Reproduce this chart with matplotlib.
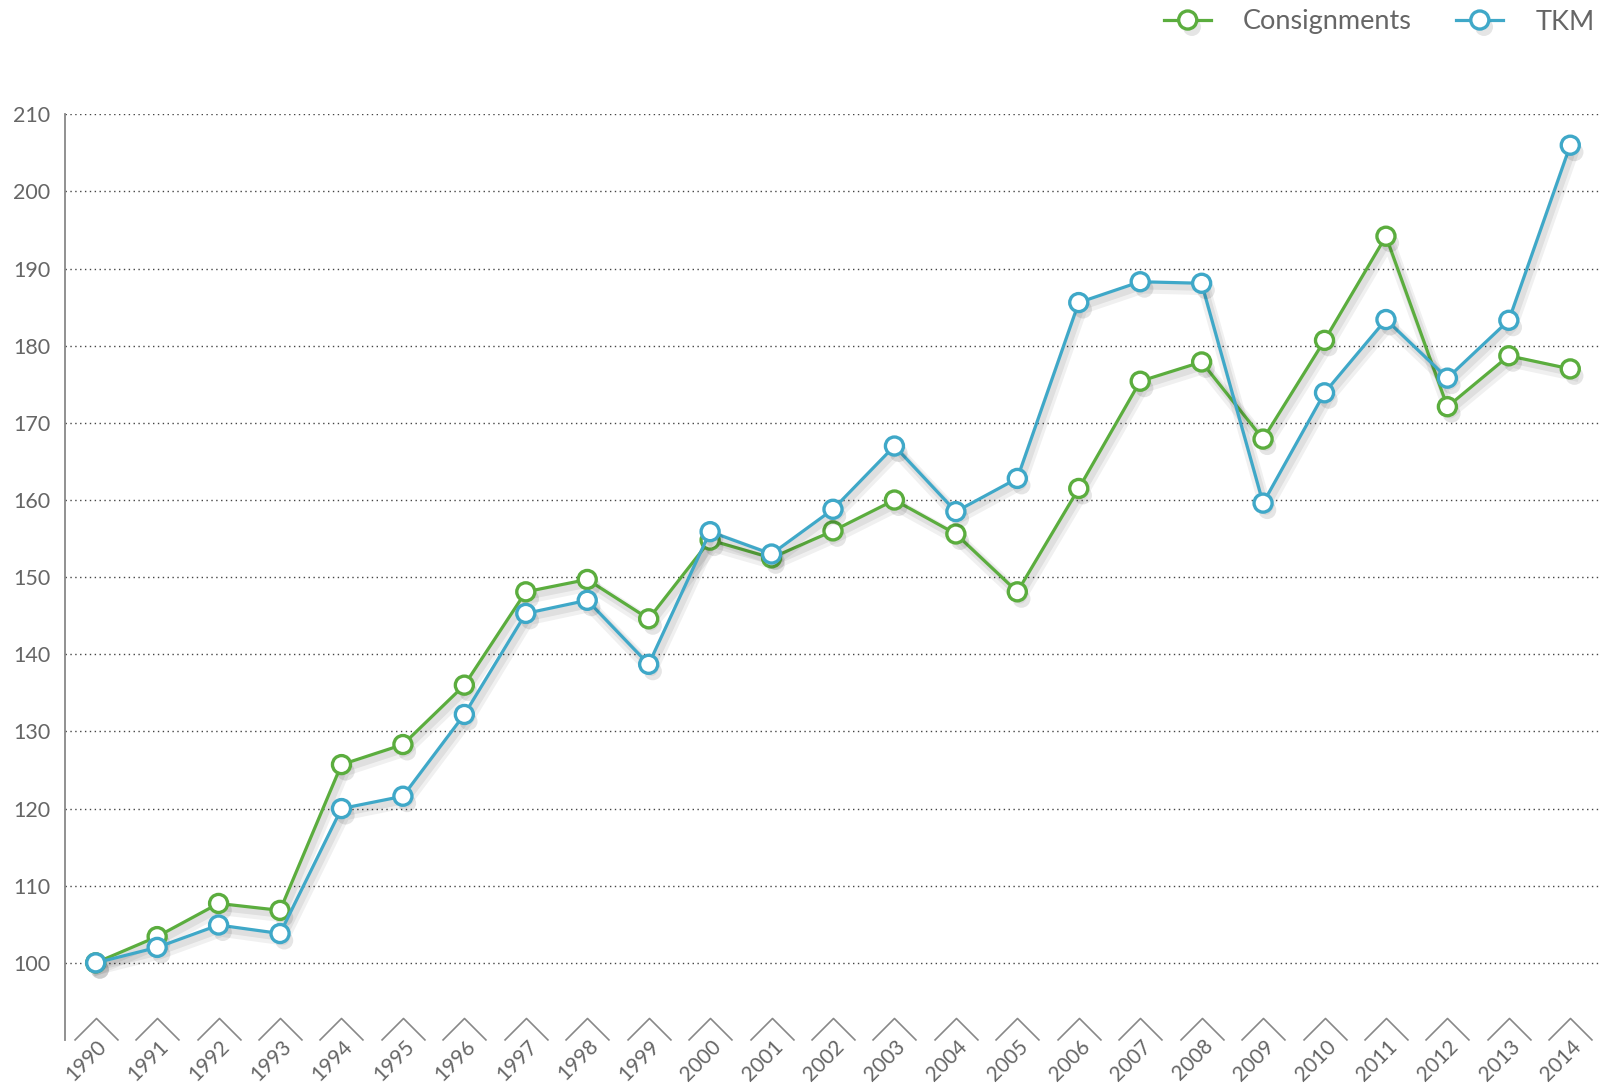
import matplotlib
matplotlib.use("Agg")
import matplotlib.pyplot as plt
import matplotlib.patheffects as pe
from matplotlib.path import Path
from matplotlib.lines import Line2D
from matplotlib.transforms import blended_transform_factory, ScaledTranslation

years = [str(y) for y in range(1990, 2015)]
consignments = [100, 103.4, 107.7, 106.8, 125.7, 128.3, 136.0, 148.1, 149.7, 144.6,
                154.8, 152.5, 156.0, 160.0, 155.6, 148.1, 161.5, 175.4, 177.9, 167.9,
                180.7, 194.2, 172.1, 178.7, 177.0]
tkm = [100, 102.0, 104.9, 103.8, 120.0, 121.6, 132.2, 145.3, 147.0, 138.7,
       155.9, 153.0, 158.8, 167.0, 158.5, 162.8, 185.6, 188.3, 188.1, 159.6,
       173.9, 183.4, 175.8, 183.3, 206.0]
yticks = list(range(100, 211, 10))

GREEN = "#5BAD3E"
BLUE = "#3FA8C8"
TXT = "#666666"

plt.rcParams['font.family'] = ['Lato', 'DejaVu Sans']

fig = plt.figure(figsize=(16.01, 10.85), dpi=100)
ax = fig.add_axes([0.0406, 0.0415, 0.9594, 0.8531])

x = list(range(len(years)))

line_fx = [pe.SimpleLineShadow(offset=(2, -4), shadow_color='k', alpha=0.06, linewidth=9),
           pe.SimpleLineShadow(offset=(2, -3), shadow_color='k', alpha=0.07, linewidth=5),
           pe.Normal()]
mark_fx = [pe.SimplePatchShadow(offset=(3, -5), shadow_rgbFace='k', alpha=0.10),
           pe.Normal()]

def series(vals, color, z):
    ax.plot(x, vals, color=color, lw=2.3, zorder=z, path_effects=line_fx,
            solid_joinstyle='round')
    ax.plot(x, vals, ls='none', marker='o', ms=13, mfc='white', mec=color,
            mew=2.4, zorder=z + 0.5, path_effects=mark_fx)

series(consignments, GREEN, 3)
series(tkm, BLUE, 4)

ax.set_xlim(-0.5, len(years) - 0.5)
ax.set_ylim(90, 210)
ax.set_yticks(yticks)
ax.set_yticklabels([str(v) for v in yticks])
ax.yaxis.grid(True, linestyle=(0, (1, 2.5)), color='#444444', linewidth=1.0)
ax.set_axisbelow(True)

for s in ['top', 'right', 'bottom']:
    ax.spines[s].set_visible(False)
ax.spines['left'].set_color('#888888')
ax.spines['left'].set_linewidth(1.3)

ax.tick_params(axis='y', length=0, pad=10.5, labelsize=15.5, labelcolor=TXT)
ax.tick_params(axis='x', length=0, pad=0, labelsize=15, labelcolor=TXT)
ax.set_xticks(x)
ax.set_xticklabels(years, rotation=45, ha='right', va='top', rotation_mode='anchor')
for lab in ax.get_xticklabels():
    lab.set_transform(lab.get_transform() + ScaledTranslation(1 / 100, 4 / 100, fig.dpi_scale_trans))

# chevron tick marks
chev = Path([(-1, 0), (0, 1), (1, 0)], [Path.MOVETO, Path.LINETO, Path.LINETO])
trans = blended_transform_factory(ax.transData, ax.transAxes)
ax.plot(x, [0] * len(x), transform=trans, ls='none', marker=chev, ms=31.7,
        mfc='none', mec='#888888', mew=1.2, clip_on=False, zorder=2)

handles = [
    Line2D([], [], color=GREEN, lw=2.3, marker='o', ms=13, mfc='white', mec=GREEN, mew=2.4,
           path_effects=mark_fx),
    Line2D([], [], color=BLUE, lw=2.3, marker='o', ms=13, mfc='white', mec=BLUE, mew=2.4,
           path_effects=mark_fx),
]
leg = fig.legend(handles, ['Consignments', 'TKM'], loc='center right',
                 bbox_to_anchor=(0.996, 1 - 22 / 1085), ncol=2, frameon=False,
                 fontsize=19.5, handlelength=1.74, handletextpad=1.18, columnspacing=1.63,
                 borderpad=0, borderaxespad=0)
for t in leg.get_texts():
    t.set_color(TXT)

fig.savefig("out.png", dpi=100)
